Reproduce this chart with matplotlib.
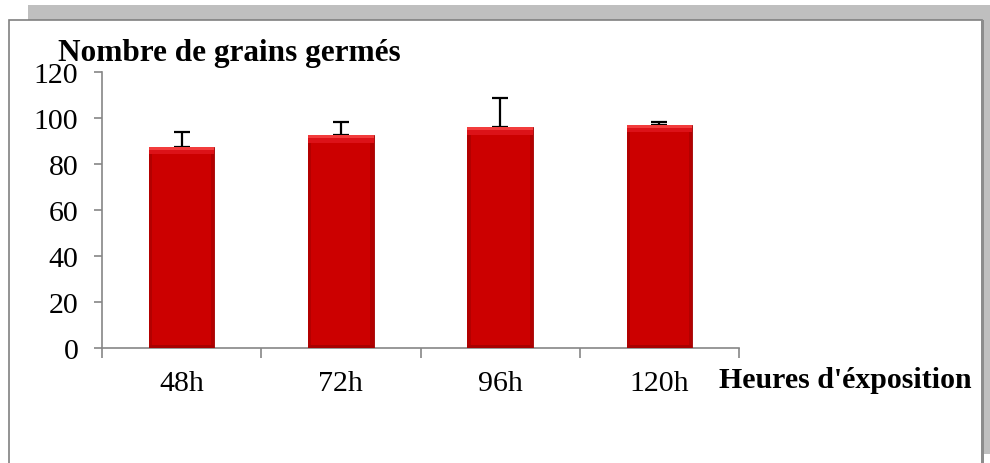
import numpy as np
import matplotlib.pyplot as plt
from matplotlib.patches import Rectangle

# data
categories = ['48h', '72h', '96h', '120h']
germes = [87.5, 92.5, 96, 97]
erreurs = [6.5, 5.8, 12.7, 1.4]
yticks = [0, 20, 40, 60, 80, 100, 120]

W, H = 990, 464
fig = plt.figure(figsize=(W / 100, H / 100), dpi=100)
plt.rcParams['font.family'] = ['Liberation Serif', 'DejaVu Serif']

# frame: grey shadow behind a white box
def px_rect(x0, y0, x1, y1, **kw):
	# pixel box (top-left origin) -> figure fraction rectangle
	return Rectangle((x0 / W, 1 - y1 / H), (x1 - x0) / W, (y1 - y0) / H,
		transform=fig.transFigure, **kw)

fig.patches.append(px_rect(28, 6, 990, 455, facecolor='#bfbfbf', edgecolor='none', zorder=0))
fig.patches.append(px_rect(9, 21, 982, 470, facecolor='white', edgecolor='#808080', lw=1.2, zorder=1))
fig.patches.append(px_rect(981, 21, 983.5, 470, facecolor='#8c8c8c', edgecolor='none', zorder=2))

ax = fig.add_axes([102 / W, 1 - 349 / H, (739 - 102) / W, (349 - 73) / H])
ax.set_zorder(3)
ax.patch.set_alpha(0)

x = np.arange(len(categories))
width = 0.41

ax.errorbar(x, germes, yerr=[np.zeros(len(erreurs)), erreurs], fmt='none',
	ecolor='black', elinewidth=1.6, capsize=5.5, capthick=1.6, zorder=2)
bars = ax.bar(x, germes, width, color='#cc0000', edgecolor='#a00000', lw=0.6, zorder=3)

# bevel look: brighter top strip, darker sides
for b in bars:
	bx, bw, bh = b.get_x(), b.get_width(), b.get_height()
	ax.add_patch(Rectangle((bx, bh - 3.2), bw, 3.2, facecolor='#dc1218', edgecolor='none', zorder=4))
	ax.add_patch(Rectangle((bx, bh - 1.2), bw, 1.2, facecolor='#f23c3c', edgecolor='none', zorder=4))
	ax.add_patch(Rectangle((bx, 0), bw * 0.05, bh - 3.2, facecolor='#b30000', edgecolor='none', zorder=4))
	ax.add_patch(Rectangle((bx + bw * 0.95, 0), bw * 0.05, bh - 3.2, facecolor='#b30000', edgecolor='none', zorder=4))
	ax.add_patch(Rectangle((bx, 0), bw, 1.4, facecolor='#a80000', edgecolor='none', zorder=4))

ax.set_xlim(-0.5, len(categories) - 0.5)
ax.set_ylim(0, 120)
ax.set_yticks(yticks)
ax.set_yticklabels([str(t) for t in yticks], fontsize=21.5)

ax.set_xticks(np.arange(len(categories) + 1) - 0.5)
ax.set_xticklabels([])
ax.set_xticks(x, minor=True)
ax.set_xticklabels(categories, minor=True, fontsize=21.5)
ax.tick_params(axis='x', which='minor', length=0, pad=16)
ax.tick_params(axis='x', which='major', length=7, color='#868686', width=1.2, direction='out')
ax.tick_params(axis='y', length=6, color='#868686', width=1.2, pad=11)

for s in ['top', 'right']:
	ax.spines[s].set_visible(False)
for s in ['left', 'bottom']:
	ax.spines[s].set_color('#868686')
	ax.spines[s].set_linewidth(1.2)

fig.text(58 / W, 1 - 61 / H, 'Nombre de grains germés', fontsize=22.5, fontweight='bold',
	va='baseline', ha='left', zorder=5)
fig.text(719 / W, 1 - 388 / H, "Heures d'éxposition", fontsize=21.5, fontweight='bold',
	va='baseline', ha='left', zorder=5)

fig.savefig('out.png', dpi=100)
